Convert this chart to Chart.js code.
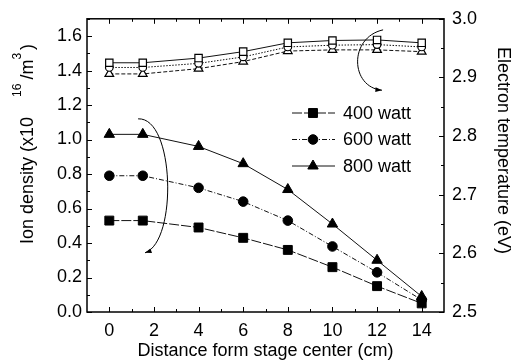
<!DOCTYPE html>
<html>
<head>
<meta charset="utf-8">
<script src="https://cdn.jsdelivr.net/npm/chart.js"></script>
<style>
  body { margin: 0; background: #fff; }
  canvas { display: block; }
</style>
</head>
<body>
<canvas id="plasma" width="519" height="362"></canvas>
<script>
// distance from stage center (cm)
const distances = [0, 1.5, 4, 6, 8, 10, 12, 14];

// ion density (x10^16 /m^3), left axis
const density400 = [0.53, 0.53, 0.49, 0.43, 0.36, 0.26, 0.15, 0.05];
const density600 = [0.79, 0.79, 0.72, 0.64, 0.53, 0.38, 0.23, 0.07];
const density800 = [1.03, 1.03, 0.96, 0.86, 0.71, 0.51, 0.30, 0.09];

// electron temperature (eV), right axis
const temp400 = [2.925, 2.925, 2.933, 2.944, 2.959, 2.963, 2.964, 2.959];
const temp600 = [2.917, 2.917, 2.924, 2.935, 2.952, 2.955, 2.956, 2.952];
const temp800 = [2.906, 2.906, 2.915, 2.927, 2.945, 2.947, 2.947, 2.944];

const seriesNames = ['400 watt', '600 watt', '800 watt'];

const xTicks = [0, 2, 4, 6, 8, 10, 12, 14];
const densityTicks = [0.0, 0.2, 0.4, 0.6, 0.8, 1.0, 1.2, 1.4, 1.6];
const tempTicks = [2.5, 2.6, 2.7, 2.8, 2.9, 3.0];

const FONT = '"Liberation Sans", Arial, sans-serif';
const INK = '#111';

const pts = (ys) => distances.map((d, i) => ({ x: d, y: ys[i] }));

const styles = [
  { pointStyle: 'rect', dash: [10, 2], radius: 6.3, openRadius: 5.2 },
  { pointStyle: 'circle', dash: [5, 2, 1, 2], radius: 4.8, openRadius: 3.8 },
  { pointStyle: 'triangle', dash: [], radius: 6, openRadius: 5 },
];

const densityData = [density400, density600, density800];
const tempData = [temp400, temp600, temp800];
const tempDash = [[], [1.5, 1.5], [4, 2]];

const datasets = [];
densityData.forEach((ys, i) => {
  datasets.push({
    label: seriesNames[i],
    data: pts(ys),
    yAxisID: 'y',
    borderColor: INK,
    borderWidth: 1,
    borderDash: styles[i].dash,
    pointStyle: styles[i].pointStyle,
    pointRadius: styles[i].radius,
    pointBackgroundColor: '#000',
    pointBorderColor: '#000',
    pointBorderWidth: 1,
    fill: false,
  });
});
tempData.forEach((ys, i) => {
  datasets.push({
    label: seriesNames[i] + ' Te',
    data: pts(ys),
    yAxisID: 'y2',
    borderColor: INK,
    borderWidth: 1,
    borderDash: tempDash[i],
    pointStyle: styles[i].pointStyle,
    pointRadius: styles[i].openRadius,
    pointBackgroundColor: '#fff',
    pointBorderColor: '#000',
    pointBorderWidth: 1.2,
    fill: false,
  });
});

const setTicks = (values) => (scale) => {
  scale.ticks = values.map((v) => ({ value: v }));
};

// frame, inward ticks, legend, arrows, y titles
const decorations = {
  id: 'decorations',
  afterDraw(chart) {
    const { ctx, chartArea: a, scales } = chart;
    const x = scales.x, y = scales.y, y2 = scales.y2;
    ctx.save();
    ctx.strokeStyle = '#000';
    ctx.fillStyle = '#000';
    ctx.setLineDash([]);

    const seg = (x1, y1, x2, y2_) => {
      ctx.beginPath(); ctx.moveTo(x1, y1); ctx.lineTo(x2, y2_); ctx.stroke();
    };

    ctx.lineWidth = 1;
    // x ticks on bottom and top
    xTicks.forEach((v, i) => {
      const px = Math.round(x.getPixelForValue(v)) + 0.5;
      seg(px, a.bottom, px, a.bottom - 5);
      seg(px, a.top, px, a.top + 5);
      if (i < xTicks.length - 1) {
        const mx = Math.round(x.getPixelForValue((v + xTicks[i + 1]) / 2)) + 0.5;
        seg(mx, a.bottom, mx, a.bottom - 3);
        seg(mx, a.top, mx, a.top + 3);
      }
    });
    // left ticks
    densityTicks.forEach((v, i) => {
      const py = Math.round(y.getPixelForValue(v)) + 0.5;
      seg(a.left, py, a.left + 5, py);
      const next = i < densityTicks.length - 1 ? densityTicks[i + 1] : v + 0.2;
      const my = Math.round(y.getPixelForValue((v + next) / 2)) + 0.5;
      if (my > a.top) seg(a.left, my, a.left + 3, my);
    });
    // right ticks
    tempTicks.forEach((v, i) => {
      const py = Math.round(y2.getPixelForValue(v)) + 0.5;
      seg(a.right, py, a.right - 5, py);
      if (i < tempTicks.length - 1) {
        const my = Math.round(y2.getPixelForValue((v + tempTicks[i + 1]) / 2)) + 0.5;
        seg(a.right, my, a.right - 3, my);
      }
    });
    // frame
    ctx.lineWidth = 1.5;
    ctx.strokeRect(a.left, a.top, a.right - a.left, a.bottom - a.top);

    // legend inside the plot
    ctx.lineWidth = 1;
    ctx.font = '18px ' + FONT;
    ctx.textBaseline = 'middle';
    ctx.textAlign = 'left';
    const rows = [113, 139.5, 166];
    seriesNames.forEach((name, i) => {
      const ly = rows[i];
      ctx.strokeStyle = INK;
      ctx.setLineDash(styles[i].dash);
      seg(292, ly, 335, ly);
      ctx.setLineDash([]);
      ctx.fillStyle = '#000';
      ctx.strokeStyle = '#000';
      Chart.helpers.drawPoint(ctx, {
        pointStyle: styles[i].pointStyle,
        radius: styles[i].radius,
        borderWidth: 1,
        rotation: 0,
      }, 313, ly);
      ctx.fillStyle = '#000';
      ctx.fillText(name, 343, ly + 1);
    });

    // curved arrows
    const P = (vx, vy, sc) => [x.getPixelForValue(vx), sc.getPixelForValue(vy)];
    const arrow = (p0, c1, c2, p3) => {
      ctx.strokeStyle = '#000';
      ctx.lineWidth = 1;
      ctx.beginPath();
      ctx.moveTo(p0[0], p0[1]);
      ctx.bezierCurveTo(c1[0], c1[1], c2[0], c2[1], p3[0], p3[1]);
      ctx.stroke();
      const ang = Math.atan2(p3[1] - c2[1], p3[0] - c2[0]);
      ctx.beginPath();
      ctx.moveTo(p3[0], p3[1]);
      ctx.lineTo(p3[0] - 7 * Math.cos(ang - 0.35), p3[1] - 7 * Math.sin(ang - 0.35));
      ctx.lineTo(p3[0] - 7 * Math.cos(ang + 0.35), p3[1] - 7 * Math.sin(ang + 0.35));
      ctx.closePath();
      ctx.fill();
    };
    arrow(P(1.29, 1.12, y), P(2.93, 1.13, y), P(3.07, 0.41, y), P(1.6, 0.343, y));
    arrow(P(12.27, 1.636, y), P(10.71, 1.59, y), P(10.8, 1.303, y), P(12.22, 1.286, y));

    // left title with superscripts
    ctx.fillStyle = '#000';
    ctx.textBaseline = 'alphabetic';
    ctx.save();
    ctx.translate(33, 244);
    ctx.rotate(-Math.PI / 2);
    let s = 0;
    ctx.font = '18px ' + FONT;
    ctx.fillText('Ion density (x10', s, 0);
    s += ctx.measureText('Ion density (x10').width + 20;
    ctx.font = '12px ' + FONT;
    ctx.fillText('16', s, -12);
    s += ctx.measureText('16').width + 4;
    ctx.font = '18px ' + FONT;
    ctx.fillText('/m', s, 0);
    s += ctx.measureText('/m').width;
    ctx.font = '12px ' + FONT;
    ctx.fillText('3', s, -12);
    s += ctx.measureText('3').width + 3;
    ctx.font = '18px ' + FONT;
    ctx.fillText(')', s, 0);
    ctx.restore();

    // right title
    ctx.save();
    ctx.translate(498, 47);
    ctx.rotate(Math.PI / 2);
    ctx.font = '18px ' + FONT;
    ctx.fillText('Electron temperature (eV)', 0, 0);
    ctx.restore();

    ctx.restore();
  },
};

new Chart(document.getElementById('plasma'), {
  type: 'line',
  data: { datasets },
  options: {
    responsive: false,
    animation: false,
    events: [],
    layout: { padding: { top: 15, left: 0, right: 0, bottom: 0 } },
    plugins: { legend: { display: false }, tooltip: { enabled: false } },
    scales: {
      x: {
        type: 'linear',
        min: -1,
        max: 15,
        afterBuildTicks: setTicks(xTicks),
        afterFit: (s) => { s.height = 50; },
        grid: { display: false, drawTicks: false },
        border: { display: false },
        ticks: {
          padding: 8,
          color: '#000',
          font: { family: FONT, size: 18 },
          callback: (v) => String(v),
        },
        title: {
          display: true,
          text: 'Distance form stage center (cm)',
          color: '#000',
          font: { family: FONT, size: 18 },
          padding: { top: 0, bottom: 0 },
        },
      },
      y: {
        type: 'linear',
        position: 'left',
        min: 0,
        max: 1.7,
        afterBuildTicks: setTicks(densityTicks),
        afterFit: (s) => { s.width = 87; },
        grid: { display: false, drawTicks: false },
        border: { display: false },
        ticks: {
          padding: 5,
          color: '#000',
          font: { family: FONT, size: 18 },
          callback: (v) => Number(v).toFixed(1),
        },
      },
      y2: {
        type: 'linear',
        position: 'right',
        min: 2.5,
        max: 3.0,
        afterBuildTicks: setTicks(tempTicks),
        afterFit: (s) => { s.width = 75; },
        grid: { display: false, drawTicks: false },
        border: { display: false },
        ticks: {
          padding: 8,
          color: '#000',
          font: { family: FONT, size: 18 },
          callback: (v) => Number(v).toFixed(1),
        },
      },
    },
  },
  plugins: [decorations],
});
</script>
</body>
</html>
